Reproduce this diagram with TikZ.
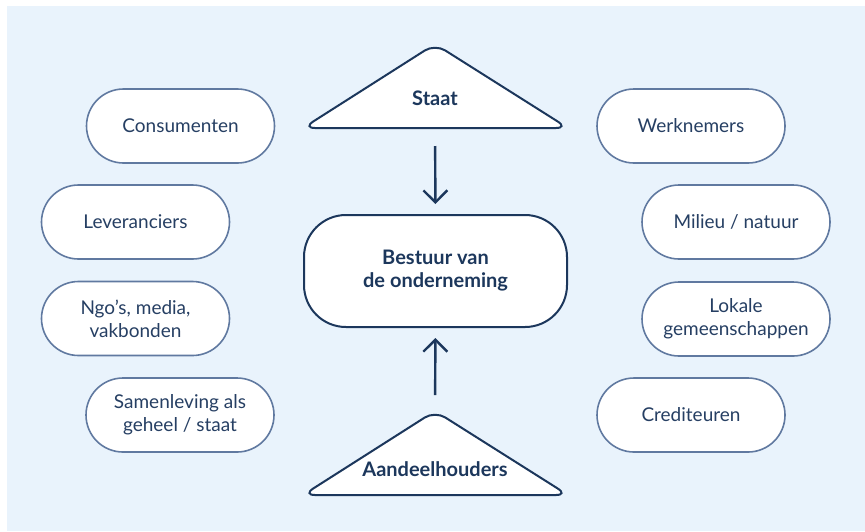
\documentclass[tikz,border=0pt]{standalone}
\usepackage{fontspec}
\setmainfont{Lato}
\usetikzlibrary{arrows.meta}
\definecolor{navy}{HTML}{1C375C}
\definecolor{pillline}{HTML}{6079A0}
\definecolor{pilltext}{HTML}{263F63}
\definecolor{backblue}{HTML}{E9F3FC}
\tikzset{
  party/.style={draw=pillline, line width=0.8pt, fill=white, rounded corners=18.5pt,
    minimum width=94pt, minimum height=37pt, align=center, text=pilltext,
    font=\fontsize{9.5}{11.5}\selectfont},
  board/.style={draw=navy, line width=1pt, fill=white, rounded corners=21pt,
    minimum width=131.5pt, minimum height=56pt, align=center, text=navy,
    font=\fontsize{10}{11.5}\selectfont\bfseries},
  roof/.style={draw=navy, line width=1pt, fill=white, rounded corners=6pt},
  rooflabel/.style={text=navy, font=\fontsize{10}{12}\selectfont\bfseries},
  influence/.style={draw=navy, line width=1.2pt, -{Straight Barb[length=6pt, width=12pt]}}
}
\begin{document}
\begin{tikzpicture}[x=0.5pt, y=-0.5pt]
    \useasboundingbox (0, 0) rectangle (865, 531);
    \fill[backblue] (7, 6) rectangle (865, 531);

    % triangles
    \draw[roof] (435, 128) -- (303, 128) -- (435, 44) -- (568, 128) -- cycle;
    \draw[roof] (435, 495) -- (303, 495) -- (435, 411) -- (568, 495) -- cycle;
    \node[rooflabel] (staat) at (435, 98) {Staat};
    \node[rooflabel] (aandeel) at (435, 469) {Aandeelhouders};
    \coordinate (staatbase) at (435, 128);
    \coordinate (aandeeltop) at (435, 411);

    \node[board] (bestuur) at (435.5, 271) {Bestuur van\\de onderneming};

    \node[party] (consument)  at (180.5, 126) {Consumenten};
    \node[party] (leverancier) at (135.5, 222) {Leveranciers};
    \node[party] (ngo)        at (135.5, 318.5) {Ngo’s, media,\\vakbonden};
    \node[party] (samenleving) at (180, 415) {Samenleving als\\geheel / staat};
    \node[party] (werknemer)  at (691, 126) {Werknemers};
    \node[party] (milieu)     at (736, 222) {Milieu / natuur};
    \node[party] (lokaal)     at (736, 319) {Lokale\\gemeenschappen};
    \node[party] (crediteur)  at (691, 415) {Crediteuren};

    \draw[influence, shorten <=9pt, shorten >=5pt] (staatbase) -- (bestuur.north);
    \draw[influence, shorten <=8pt, shorten >=5pt] (aandeeltop) -- (bestuur.south);
  \end{tikzpicture}
\end{document}
